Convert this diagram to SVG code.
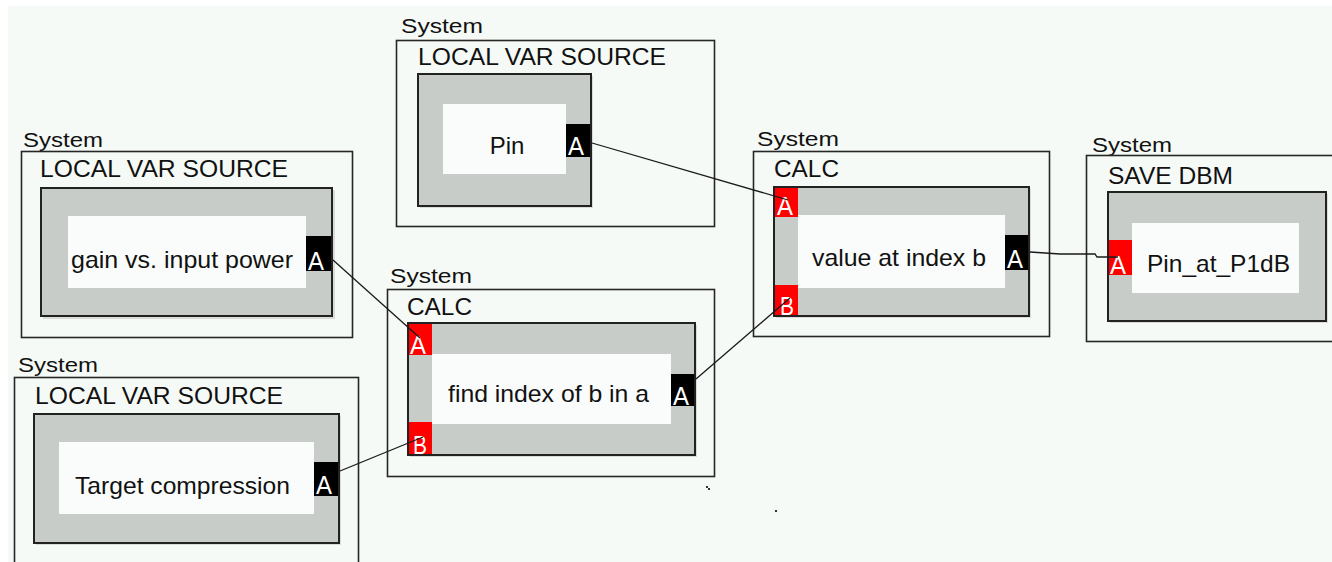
<svg xmlns="http://www.w3.org/2000/svg" width="1332" height="562" viewBox="0 0 1332 562">
  <style>
    .bg { fill: #f6faf7; }
    .frame { fill: none; stroke: #262626; stroke-width: 1.6; }
    .shadow { fill: #d9dcd9; }
    .body { fill: #c8ccc8; }
    .edge { fill: none; stroke: #222; stroke-width: 2; }
    .face { fill: #f9fcfa; }
    .pin-in { fill: #ff0000; }
    .pin-out { fill: #000; }
    .sys { font-family: "Liberation Sans", Arial, sans-serif; font-size: 20px; fill: #111; }
    .kind { font-family: "Liberation Sans", Arial, sans-serif; font-size: 24px; fill: #111; }
    .name { font-family: "Liberation Sans", Arial, sans-serif; font-size: 24px; fill: #111; }
    .pl { font-family: "Liberation Sans", Arial, sans-serif; font-size: 25px; fill: #fff; }
    .wire { fill: none; stroke: #1a1a1a; stroke-width: 1.3; }
  </style>

  <rect x="0" y="0" width="1332" height="562" fill="#ffffff"/>
  <rect class="bg" x="8" y="6" width="1324" height="556"/>

  <!-- local var source: gain vs. input power -->
  <g id="src-gain">
    <text class="sys" x="23" y="147" textLength="80" lengthAdjust="spacingAndGlyphs">System</text>
    <rect class="frame" x="21.5" y="151.5" width="331" height="186"/>
    <text class="kind" x="40" y="177" textLength="248" lengthAdjust="spacingAndGlyphs">LOCAL VAR SOURCE</text>
    <rect class="shadow" x="43" y="190" width="292" height="129"/>
    <rect class="body" x="41" y="188" width="291" height="128"/>
    <rect class="face" x="68" y="216" width="238" height="72"/>
    <text class="name" x="71" y="268" textLength="222" lengthAdjust="spacingAndGlyphs">gain vs. input power</text>
    <rect class="pin-out" x="306" y="236" width="27" height="35"/>
    <text class="pl" x="308" y="270" textLength="16" lengthAdjust="spacingAndGlyphs">A</text>
    <rect class="edge" x="41" y="188" width="291" height="128"/>
  </g>

  <!-- local var source: Pin -->
  <g id="src-pin">
    <text class="sys" x="401" y="33" textLength="82" lengthAdjust="spacingAndGlyphs">System</text>
    <rect class="frame" x="396.5" y="40.5" width="318" height="186"/>
    <text class="kind" x="418" y="65" textLength="248" lengthAdjust="spacingAndGlyphs">LOCAL VAR SOURCE</text>
    <rect class="shadow" x="420" y="76" width="173" height="132"/>
    <rect class="body" x="418" y="74" width="173" height="132"/>
    <rect class="face" x="443" y="104" width="123" height="70"/>
    <text class="name" x="507" y="154" text-anchor="middle">Pin</text>
    <rect class="pin-out" x="566" y="124" width="26" height="33"/>
    <text class="pl" x="568" y="155" textLength="16" lengthAdjust="spacingAndGlyphs">A</text>
    <rect class="edge" x="418" y="74" width="173" height="132"/>
  </g>

  <!-- local var source: Target compression -->
  <g id="src-target">
    <text class="sys" x="18" y="372" textLength="80" lengthAdjust="spacingAndGlyphs">System</text>
    <rect class="frame" x="14.5" y="377.5" width="344" height="200"/>
    <text class="kind" x="35" y="404" textLength="248" lengthAdjust="spacingAndGlyphs">LOCAL VAR SOURCE</text>
    <rect class="shadow" x="36" y="416" width="305" height="129"/>
    <rect class="body" x="34" y="414" width="305" height="129"/>
    <rect class="face" x="59" y="442" width="255" height="72"/>
    <text class="name" x="75" y="494" textLength="215" lengthAdjust="spacingAndGlyphs">Target compression</text>
    <rect class="pin-out" x="314" y="462" width="25" height="34"/>
    <text class="pl" x="316" y="494" textLength="16" lengthAdjust="spacingAndGlyphs">A</text>
    <rect class="edge" x="34" y="414" width="305" height="129"/>
  </g>

  <!-- calc: find index of b in a -->
  <g id="calc-find">
    <text class="sys" x="390" y="283" textLength="82" lengthAdjust="spacingAndGlyphs">System</text>
    <rect class="frame" x="387.5" y="289.5" width="327" height="187"/>
    <text class="kind" x="407" y="315" textLength="65" lengthAdjust="spacingAndGlyphs">CALC</text>
    <rect class="shadow" x="410" y="325" width="287" height="132"/>
    <rect class="body" x="408" y="323" width="287" height="132"/>
    <rect class="face" x="432" y="354" width="239" height="70"/>
    <text class="name" x="448" y="402" textLength="201" lengthAdjust="spacingAndGlyphs">find index of b in a</text>
    <rect class="pin-in" x="407" y="323" width="25" height="32"/>
    <text class="pl" x="410" y="354" textLength="16" lengthAdjust="spacingAndGlyphs">A</text>
    <rect class="pin-in" x="407" y="422" width="25" height="34"/>
    <text class="pl" x="413" y="454" textLength="14" lengthAdjust="spacingAndGlyphs">B</text>
    <rect class="pin-out" x="671" y="374" width="25" height="32"/>
    <text class="pl" x="673" y="405" textLength="16" lengthAdjust="spacingAndGlyphs">A</text>
    <rect class="edge" x="408" y="323" width="287" height="132"/>
  </g>

  <!-- calc: value at index b -->
  <g id="calc-value">
    <text class="sys" x="757" y="146" textLength="82" lengthAdjust="spacingAndGlyphs">System</text>
    <rect class="frame" x="753.5" y="151.5" width="296" height="185"/>
    <text class="kind" x="774" y="177" textLength="65" lengthAdjust="spacingAndGlyphs">CALC</text>
    <rect class="shadow" x="776" y="189" width="255" height="129"/>
    <rect class="body" x="774" y="187" width="255" height="129"/>
    <rect class="face" x="798" y="215" width="207" height="73"/>
    <text class="name" x="812" y="266" textLength="174" lengthAdjust="spacingAndGlyphs">value at index b</text>
    <rect class="pin-in" x="773" y="186" width="25" height="31"/>
    <text class="pl" x="777" y="215" textLength="16" lengthAdjust="spacingAndGlyphs">A</text>
    <rect class="pin-in" x="773" y="285" width="25" height="32"/>
    <text class="pl" x="780" y="315" textLength="14" lengthAdjust="spacingAndGlyphs">B</text>
    <rect class="pin-out" x="1005" y="235" width="25" height="35"/>
    <text class="pl" x="1007" y="268" textLength="16" lengthAdjust="spacingAndGlyphs">A</text>
    <rect class="edge" x="774" y="187" width="255" height="129"/>
  </g>

  <!-- save dbm: Pin_at_P1dB -->
  <g id="save-p1db">
    <text class="sys" x="1092" y="152" textLength="80" lengthAdjust="spacingAndGlyphs">System</text>
    <rect class="frame" x="1086.5" y="155.5" width="300" height="186"/>
    <text class="kind" x="1108" y="184" textLength="125" lengthAdjust="spacingAndGlyphs">SAVE DBM</text>
    <rect class="shadow" x="1110" y="194" width="218" height="129"/>
    <rect class="body" x="1108" y="192" width="218" height="129"/>
    <rect class="face" x="1132" y="223" width="167" height="70"/>
    <text class="name" x="1147" y="272" textLength="143" lengthAdjust="spacingAndGlyphs">Pin_at_P1dB</text>
    <rect class="pin-in" x="1107" y="240" width="25" height="35"/>
    <text class="pl" x="1110" y="274" textLength="16" lengthAdjust="spacingAndGlyphs">A</text>
    <rect class="edge" x="1108" y="192" width="218" height="129"/>
  </g>

  <!-- wires between ports -->
  <g id="wires">
    <path class="wire" d="M592,143 L788,200"/>
    <path class="wire" d="M333,260 L420,338"/>
    <path class="wire" d="M340,471 L423,437"/>
    <path class="wire" d="M696,379 L790,298"/>
    <path class="wire" d="M1030,252 L1060,254 L1095,254 L1097,257 L1118,257"/>
  </g>

  <!-- stray specks on the canvas -->
  <g id="specks" fill="#333">
    <rect x="706" y="486" width="2" height="2"/>
    <rect x="708" y="488" width="2" height="2"/>
    <rect x="775" y="510" width="2" height="2"/>
  </g>
</svg>
